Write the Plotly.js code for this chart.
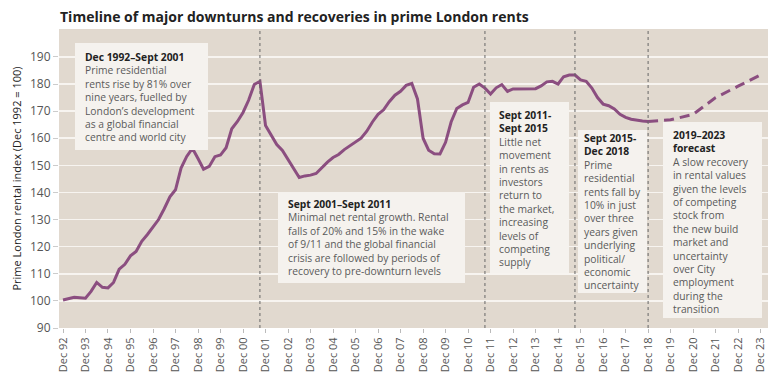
<!DOCTYPE html>
<html>
<head>
<meta charset="utf-8">
<script src="https://cdn.plot.ly/plotly-3.0.1.min.js"></script>
<style>html,body{margin:0;padding:0;background:#fff;}#chart{width:780px;height:381px;}</style>
</head>
<body>
<div id="chart"></div>
<script>
// Quarterly prime London rental index, Dec 1992 to Dec 2018 (Dec 1992 = 100)
const startYear = 1992;
const startMonth = 12;
const actualValues = [
  100.3, 100.8, 101.3, 101.2,
  101.0, 103.5, 106.8, 105.0,
  104.8, 106.8, 111.7, 113.5,
  116.6, 118.2, 122.0, 124.5,
  127.3, 130.0, 134.0, 138.4,
  141.0, 149.0, 153.3, 156.3,
  152.5, 148.6, 149.6, 153.2,
  153.8, 156.5, 163.5, 166.2,
  169.5, 174.0, 179.8, 181.0,
  164.7, 161.0, 157.7, 155.5,
  152.0, 148.5, 145.5, 146.1,
  146.4, 147.0, 149.3, 151.2,
  152.9, 154.0, 155.8, 157.2,
  158.5, 160.0, 162.6, 166.0,
  168.8, 170.5, 173.5, 175.9,
  177.3, 179.5, 180.2, 174.5,
  160.0, 155.6, 154.3, 154.2,
  158.5, 166.0, 171.0, 172.3,
  173.2, 178.8, 180.0, 178.5,
  176.3, 178.6, 179.8, 177.3,
  178.2, 178.2, 178.1, 178.1,
  178.3, 179.3, 180.8, 181.0,
  180.0, 182.7, 183.3, 183.3,
  181.5, 181.0, 178.5, 175.0,
  172.6, 172.0, 170.8, 168.8,
  167.7, 167.0, 166.6, 166.4,
  166.2
];
// Forecast (annual, Dec 2018 to Dec 2023)
const forecastDates = ["2018-12-01", "2019-12-01", "2020-12-01", "2021-12-01", "2022-12-01", "2023-12-01"];
const forecastValues = [166.2, 166.8, 168.8, 175.0, 179.2, 183.4];

const tickYears = [];
for (let y = 1992; y <= 2023; y++) tickYears.push(y);
const tickVals = tickYears.map(y => y + "-12-01");
const tickText = tickYears.map(y => "Dec " + String(y % 100).padStart(2, "0"));

const periodBreaks = ["2001-09-01", "2011-09-01", "2015-09-01", "2018-12-01"];

const boxTexts = [
  ["Dec 1992–Sept 2001", "Prime residential", "rents rise by 81% over", "nine years, fuelled by", "London’s development", "as a global financial", "centre and world city"],
  ["Sept 2001–Sept 2011", "Minimal net rental growth. Rental", "falls of 20% and 15% in the wake", "of 9/11 and the global financial", "crisis are followed by periods of", "recovery to pre-downturn levels"],
  ["Sept 2011-", "Sept 2015", "Little net", "movement", "in rents as", "investors", "return to", "the market,", "increasing", "levels of", "competing", "supply"],
  ["Sept 2015-", "Dec 2018", "Prime", "residential", "rents fall by", "10% in just", "over three", "years given", "underlying", "political/", "economic", "uncertainty"],
  ["2019–2023", "forecast", "A slow recovery", "in rental values", "given the levels", "of competing", "stock from", "the new build", "market and", "uncertainty", "over City", "employment", "during the", "transition"]
];
const boxHeadLines = [1, 1, 2, 2, 2];

// layout geometry (pixels)
const W = 780, H = 381;
const M = {l: 59, r: 12, t: 29, b: 53};
const PW = W - M.l - M.r, PH = H - M.t - M.b;
const px2x = p => (p - M.l) / PW;
const px2y = p => (H - M.b - p) / PH;
const boxes = [
  {x0: 75, x1: 208, y0: 43, y1: 150, tx: 83, ty: 48},
  {x0: 278, x1: 465, y0: 192, y1: 283, tx: 286, ty: 195},
  {x0: 490, x1: 569, y0: 102, y1: 273, tx: 497, ty: 106},
  {x0: 578, x1: 647, y0: 130, y1: 293, tx: 582, ty: 129},
  {x0: 663, x1: 762, y0: 122, y1: 318, tx: 671, ty: 126}
];

// build quarterly dates
const actualDates = [];
for (let i = 0; i < actualValues.length; i++) {
  const m0 = (startMonth - 1) + 3 * i;
  const yy = startYear + Math.floor(m0 / 12);
  const mm = (m0 % 12) + 1;
  actualDates.push(yy + "-" + String(mm).padStart(2, "0") + "-01");
}

const purple = "#8b4e80";
const traces = [
  {x: actualDates, y: actualValues, type: "scatter", mode: "lines",
   line: {color: purple, width: 3}, hoverinfo: "x+y", showlegend: false},
  {x: forecastDates, y: forecastValues, type: "scatter", mode: "lines",
   line: {color: purple, width: 3, dash: "10px,6px"}, hoverinfo: "x+y", showlegend: false}
];

const shapes = [];
periodBreaks.forEach(d => shapes.push({
  type: "line", xref: "x", yref: "paper", x0: d, x1: d, y0: 0, y1: 1,
  line: {color: "#666", width: 1, dash: "dot"}, layer: "above"
}));
boxes.forEach(b => shapes.push({
  type: "rect", xref: "paper", yref: "paper",
  x0: px2x(b.x0), x1: px2x(b.x1), y0: px2y(b.y1), y1: px2y(b.y0),
  fillcolor: "#f5f2ee", line: {width: 0}, layer: "above"
}));

const annotations = boxes.map((b, i) => {
  const lines = boxTexts[i];
  const nh = boxHeadLines[i];
  const txt = lines.map((s, k) => k < nh ? "<b>" + s + "</b>" : "<span style=\"color:#5a5a5a\">" + s + "</span>").join("<br>");
  return {
    xref: "paper", yref: "paper", x: px2x(b.tx), y: px2y(b.ty),
    xanchor: "left", yanchor: "top", align: "left", showarrow: false,
    text: txt, font: {family: "Open Sans, sans-serif", size: 10.3, color: "#222"}
  };
});

const layout = {
  width: W, height: H,
  margin: M,
  paper_bgcolor: "#ffffff",
  plot_bgcolor: "#e1d9cf",
  font: {family: "Open Sans, sans-serif", color: "#555"},
  title: {
    text: "<b>Timeline of major downturns and recoveries in prime London rents</b>",
    font: {family: "Open Sans, sans-serif", size: 14, color: "#222"},
    xref: "container", x: 60 / W, xanchor: "left", yref: "container", y: 1 - 17 / H, yanchor: "middle"
  },
  xaxis: {
    type: "date",
    range: ["1992-09-27", "2024-03-30"],
    tickmode: "array", tickvals: tickVals, ticktext: tickText,
    tickangle: -90, tickfont: {size: 11, color: "#555"},
    ticks: "outside", ticklen: 4, tickcolor: "#bbb",
    showgrid: false, zeroline: false, showline: false, fixedrange: true
  },
  yaxis: {
    range: [90, 200.3],
    tickvals: [90, 100, 110, 120, 130, 140, 150, 160, 170, 180, 190],
    tickfont: {size: 12, color: "#555"},
    ticks: "outside", ticklen: 5, tickcolor: "#ccc",
    showgrid: true, gridcolor: "#f7f4f0", gridwidth: 1.5,
    zeroline: false, showline: false, fixedrange: true,
    title: {text: "Prime London rental index (Dec 1992 = 100)", font: {size: 11, color: "#222"}, standoff: 6}
  },
  shapes: shapes,
  annotations: annotations,
  showlegend: false
};

Plotly.newPlot("chart", traces, layout, {displayModeBar: false, staticPlot: true});
</script>
</body>
</html>
